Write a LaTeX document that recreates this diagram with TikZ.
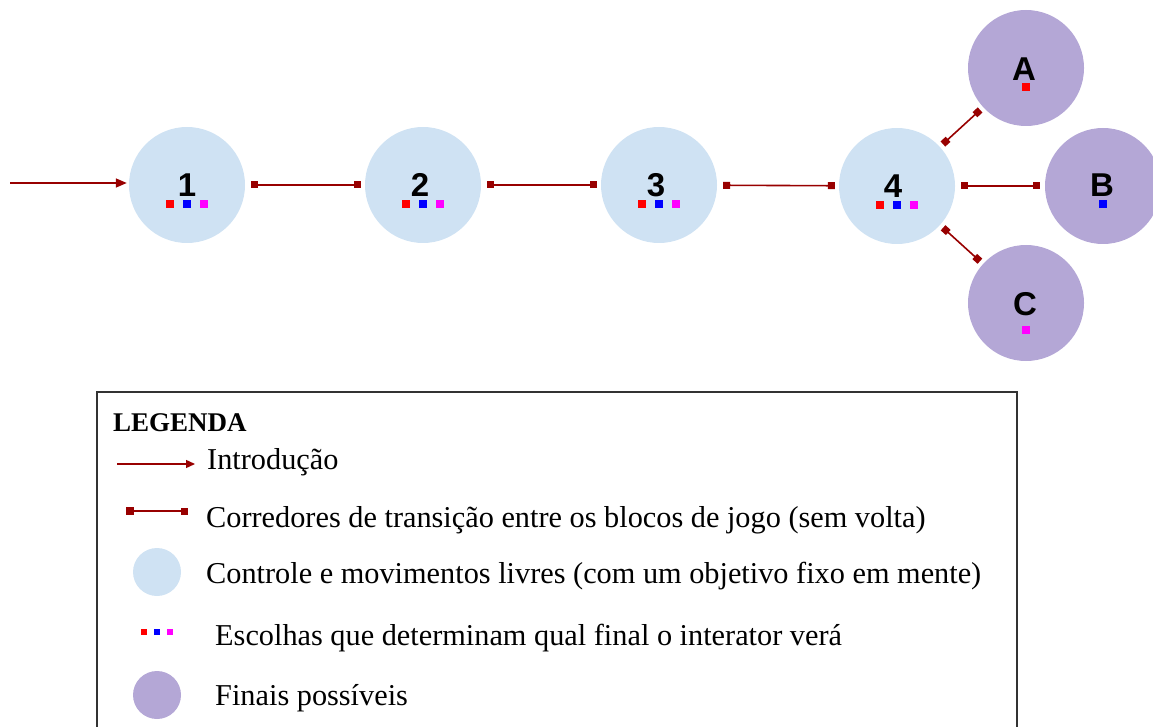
\documentclass[tikz,border=0pt]{standalone}
\usepackage{fontspec}
\setmainfont{Liberation Serif}
\newfontfamily\arialfont{Liberation Sans}
\usetikzlibrary{arrows.meta,calc}
\definecolor{dred}{HTML}{980000}
\definecolor{lblue}{HTML}{CFE2F3}
\definecolor{lpurple}{HTML}{B4A7D6}
\definecolor{dmag}{HTML}{FF00FF}
\begin{document}
\begin{tikzpicture}[x=1pt,y=-1pt,
  block/.style={circle,fill=lblue,minimum size=116pt,inner sep=0pt},
  ending/.style={circle,fill=lpurple,minimum size=116pt,inner sep=0pt},
  lbl/.style={inner sep=0pt,font=\arialfont\bfseries\fontsize{33}{33}\selectfont},
  choice/.style={rectangle,minimum size=8pt,inner sep=0pt},
  smallchoice/.style={rectangle,minimum size=6pt,inner sep=0pt},
  corridor/.style={draw=dred,line width=1.6pt,{Square[length=7pt,width=7pt]}-{Square[length=7pt,width=7pt]}},
  intro/.style={draw=dred,line width=1.6pt,-{Triangle[length=11pt,width=9pt]}},
  legtext/.style={anchor=base west,inner sep=0pt,font=\fontsize{30.3}{30.3}\selectfont},
  legcircle/.style={circle,minimum size=48pt,inner sep=0pt}
]
\useasboundingbox (0,0) rectangle (1153,727);
\clip (0,0) rectangle (1153,727);

% blocks
\node[block] (c1) at (187,185) {};
\node[block] (c2) at (423,185) {};
\node[block] (c3) at (659,185) {};
\node[block] (c4) at (897,186) {};
\node[ending] (eA) at (1026,68) {};
\node[ending] (eB) at (1103,186) {};
\node[ending] (eC) at (1026,303) {};

% labels
\node[lbl] (l1) at ($(c1)+(0,0)$) {1};
\node[lbl] (l2) at ($(c2)+(-3,0)$) {2};
\node[lbl] (l3) at ($(c3)+(-3,0)$) {3};
\node[lbl] (l4) at ($(c4)+(-4,0)$) {4};
\node[lbl] (lA) at ($(eA)+(-2,1)$) {A};
\node[lbl] (lB) at ($(eB)+(-1,-1)$) {B};
\node[lbl] (lC) at ($(eC)+(-1,1)$) {C};

% choices
\foreach \n in {c1,c2,c3,c4}{
  \node[choice,fill=red]  (\n r) at ($(\n)+(-17,19)$) {};
  \node[choice,fill=blue] (\n b) at ($(\n)+(0,19)$) {};
  \node[choice,fill=dmag] (\n m) at ($(\n)+(17,19)$) {};
}
\node[choice,fill=red]  (eAr) at ($(eA)+(0,19)$) {};
\node[choice,fill=blue] (eBb) at ($(eB)+(0,18)$) {};
\node[choice,fill=dmag] (eCm) at ($(eC)+(0,27)$) {};

% connectors
\coordinate (start) at (10,183);
\draw[intro,shorten >=2pt] (start) -- (c1.west |- start);
\draw[corridor,shorten <=6pt,shorten >=4pt] (c1) -- (c2);
\draw[corridor,shorten <=6pt,shorten >=4pt] (c2) -- (c3);
\draw[corridor,shorten <=6pt,shorten >=4pt] (c3) -- (c4);
\draw[corridor,shorten <=6pt,shorten >=5pt] (c4) -- (eB);
\draw[corridor,shorten <=4pt,shorten >=4pt] (c4) -- (eA);
\draw[corridor,shorten <=4pt,shorten >=4pt] (c4) -- (eC);

% legend
\draw[line width=1.5pt,draw=black!80] (97,392) rectangle (1017,760);
\node[anchor=base west,inner sep=0pt,font=\bfseries\fontsize{27}{27}\selectfont] (lt) at (113,431) {LEGENDA};

\coordinate (li1) at (117,464);
\coordinate (li2) at (195,464);
\draw[draw=dred,line width=1.4pt,-{Triangle[length=9pt,width=8pt]}] (li1) -- (li2);
\node[legtext] (lti) at (207,469) {Introdução};

\coordinate (lc1) at (126,511);
\coordinate (lc2) at (188,511);
\draw[draw=dred,line width=1.6pt,{Square[length=8pt,width=8pt]}-{Square[length=7pt,width=7pt]}] (lc1) -- (lc2);
\node[legtext] (ltc) at (206,527) {Corredores de transição entre os blocos de jogo (sem volta)};

\node[legcircle,fill=lblue] (lb) at (157,572) {};
\node[legtext] (ltb) at (206,583) {Controle e movimentos livres (com um objetivo fixo em mente)};

\node[smallchoice,fill=red]  (ldr) at (144,632) {};
\node[smallchoice,fill=blue] (ldb) at (157,632) {};
\node[smallchoice,fill=dmag] (ldm) at (170,632) {};
\node[legtext] (ltd) at (215,645) {Escolhas que determinam qual final o interator verá};

\node[legcircle,fill=lpurple] (lp) at (157,695) {};
\node[legtext] (ltp) at (215,705) {Finais possíveis};
\end{tikzpicture}
\end{document}
